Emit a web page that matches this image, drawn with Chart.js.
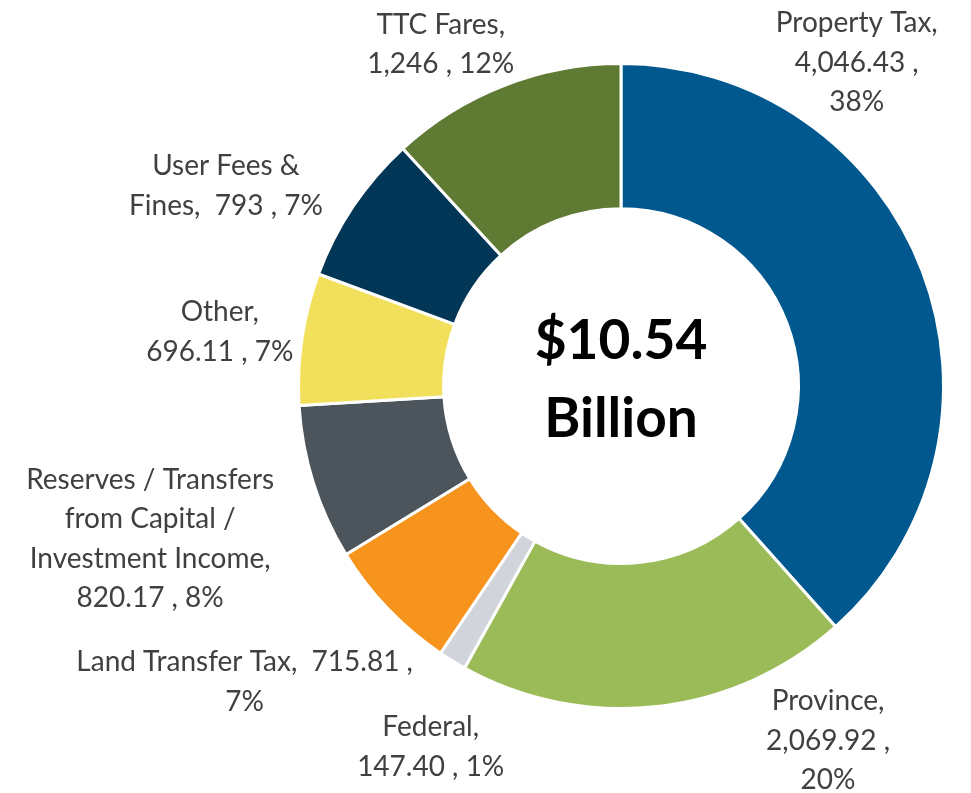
<!DOCTYPE html>
<html>
<head>
<meta charset="utf-8">
<script src="https://cdn.jsdelivr.net/npm/chart.js@4/dist/chart.umd.min.js"></script>
<style>
    html, body { margin: 0; padding: 0; background: #fff; }
    #wrap { width: 971px; height: 793px; position: relative; }
</style>
</head>
<body>
<div id="wrap"><canvas id="revenueChart"></canvas></div>
<script>
// Revenue sources ($ millions), clockwise from 12 o'clock
const categories = ['Property Tax', 'Province', 'Federal', 'Land Transfer Tax',
    'Reserves / Transfers from Capital / Investment Income', 'Other', 'User Fees & Fines', 'TTC Fares'];
const values = [4046.43, 2069.92, 147.40, 715.81, 820.17, 696.11, 793, 1246];
const percents = [38, 20, 1, 7, 8, 7, 7, 12];
const colors = ['#00588f', '#9bbb59', '#d1d4db', '#f7941e', '#4b555b', '#f2e05c', '#023656', '#5f7a32'];
const centerLines = ['$10.54', 'Billion'];

// label placement, relative to the centre in units of outer radius
const labelOffset = [[0.731, -1.003], [0.642, 1.10], [-0.59, 1.12], [-1.167, 0.917],
    [-1.46, 0.475], [-1.244, -0.167], [-1.225, -0.62], [-0.559, -1.059]];
// words per line for each label
const labelWrap = [[2, 2, 1], [1, 2, 1], [1, 3], [5, 1], [3, 3, 2, 3], [1, 3], [3, 4], [2, 3]];

const labelFont = '28px Lato, "Liberation Sans", sans-serif';
const lineH = 39.5;

function fmtValue(v) {
    const d = Number.isInteger(v) ? 0 : 2;
    return v.toLocaleString('en-US', { minimumFractionDigits: d, maximumFractionDigits: d });
}

// build the wrapped label lines: name words, value, ",", pct
function labelLines(i) {
    const toks = categories[i].split(' ').map(w => ({ t: w, sep: ' ' }));
    toks[toks.length - 1].t += ',';
    toks.push({ t: fmtValue(values[i]), sep: '  ' });
    toks.push({ t: ',', sep: ' ' });
    toks.push({ t: percents[i] + '%', sep: ' ' });
    const lines = [];
    let k = 0;
    labelWrap[i].forEach(n => {
        let s = '';
        for (let j = 0; j < n; j++) {
            s += (j === 0 ? '' : toks[k].sep) + toks[k].t;
            k++;
        }
        lines.push(s);
    });
    return lines;
}

const outsideLabels = {
    id: 'outsideLabels',
    afterDraw(chart) {
        const ctx = chart.ctx;
        const arcs = chart.getDatasetMeta(0).data;
        ctx.save();
        ctx.font = labelFont;
        ctx.fillStyle = '#404040';
        ctx.textAlign = 'center';
        ctx.textBaseline = 'middle';
        arcs.forEach((arc, i) => {
            const r = arc.outerRadius;
            const cx = arc.x + labelOffset[i][0] * r;
            const cy = arc.y + labelOffset[i][1] * r;
            const lines = labelLines(i);
            const top = cy - (lines.length - 1) * lineH / 2;
            lines.forEach((ln, j) => ctx.fillText(ln, cx, top + j * lineH));
        });

        // centre total
        const a = arcs[0];
        ctx.font = 'bold 55px Lato, "Liberation Sans", sans-serif';
        ctx.fillStyle = '#000';
        ctx.fillText(centerLines[0], a.x, a.y - 45);
        ctx.fillText(centerLines[1], a.x, a.y + 33);
        ctx.restore();
    }
};

const ctx = document.getElementById('revenueChart').getContext('2d');
new Chart(ctx, {
    type: 'doughnut',
    data: {
        labels: categories,
        datasets: [{
            data: values,
            backgroundColor: colors,
            borderColor: '#ffffff',
            borderWidth: 3,
            hoverOffset: 0
        }]
    },
    options: {
        responsive: true,
        maintainAspectRatio: false,
        animation: false,
        cutout: '55%',
        layout: {
            padding: { left: 297, right: 26, top: 62, bottom: 83 }
        },
        plugins: {
            legend: { display: false },
            tooltip: { enabled: false }
        }
    },
    plugins: [outsideLabels]
});
</script>
</body>
</html>
